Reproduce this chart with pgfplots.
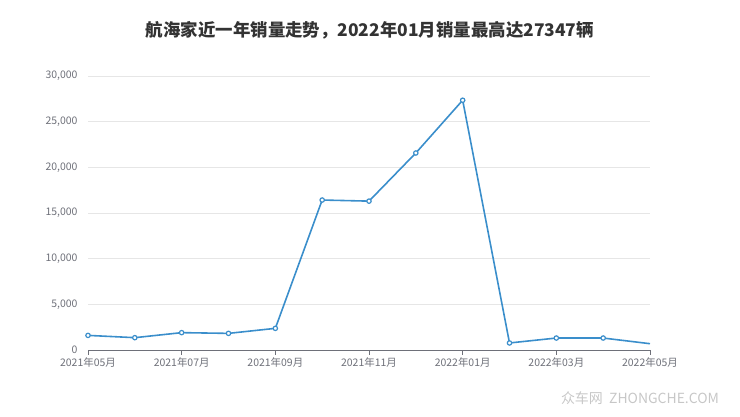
\documentclass[border=0pt]{standalone}
\usepackage{pgfplots}
\pgfplotsset{compat=1.18}
\usepackage{fontspec}
\setmainfont{Noto Sans CJK SC}
\definecolor{linec}{HTML}{3A8ECB}
\definecolor{labc}{HTML}{6E7079}
\definecolor{gridc}{HTML}{E6E6E6}
\definecolor{titc}{HTML}{333333}
\begin{document}
\begin{tikzpicture}
\path[use as bounding box] (0bp,0bp) rectangle (740bp,417bp);
\node[font=\fontsize{17.5}{19}\selectfont\bfseries, text=titc] at (370bp,387bp) {航海家近一年销量走势，2022年01月销量最高达27347辆};
\node[font=\fontsize{14}{16}\selectfont, text=black!22] at (640bp,19bp) {众车网\ \ ZHONGCHE.COM};
\begin{axis}[
  at={(88bp,67bp)}, anchor=south west,
  scale only axis, width=562bp, height=274bp,
  xmin=0, xmax=12, ymin=0, ymax=30000,
  axis x line*=bottom, axis y line*=left,
  y axis line style={draw=none},
  x axis line style={draw=labc, line width=0.8pt},
  xtick={0,2,...,12},
  xticklabels={2021年05月,2021年07月,2021年09月,2021年11月,2022年01月,2022年03月,2022年05月},
  ytick={0,5000,...,30000},
  yticklabel={\pgfmathprintnumber[fixed,1000 sep={,}]{\tick}},
  scaled y ticks=false,
  /pgf/number format/assume math mode=true,
  ymajorgrids, major grid style={draw=gridc, line width=0.6pt},
  tick label style={font=\fontsize{10.5}{12}\selectfont, text=labc},
  ytick style={draw=none},
  xtick style={draw=labc, line width=0.8pt},
  tick align=outside, major tick length=5bp,
  yticklabel style={xshift=-2bp},
  xticklabel style={yshift=1bp},
  clip=false,
]
\addplot[color=linec, line width=1.6pt, mark=*, mark size=2.2pt, mark options={fill=white, draw=linec, line width=1.2pt}]
  coordinates {(0,1600) (1,1350) (2,1900) (3,1820) (4,2370) (5,16420) (6,16300) (7,21570) (8,27347) (9,770) (10,1310) (11,1310)};
\addplot[color=linec, line width=1.6pt, mark=none]
  coordinates {(11,1310) (12,690)};
\end{axis}
\end{tikzpicture}
\end{document}
